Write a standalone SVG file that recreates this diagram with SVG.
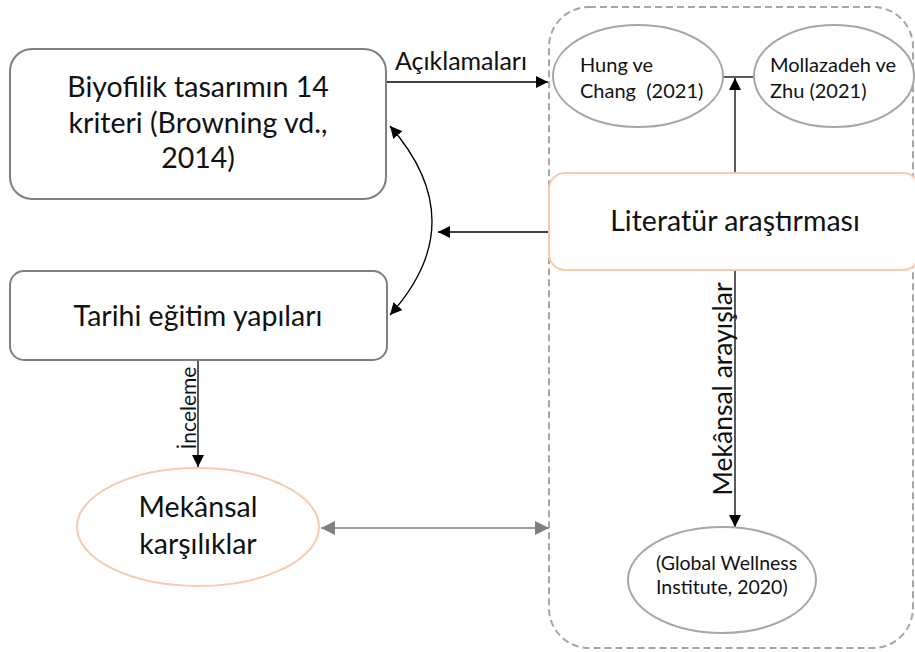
<svg xmlns="http://www.w3.org/2000/svg" width="915" height="652" viewBox="0 0 915 652">
<defs>
<marker id="ah" viewBox="0 0 10 10" refX="10" refY="5" markerWidth="12" markerHeight="12" markerUnits="userSpaceOnUse" orient="auto-start-reverse"><path d="M0,0 L10,5 L0,10 Z" fill="#000"/></marker>
<marker id="ahg" viewBox="0 0 10 10" refX="10" refY="5" markerWidth="14" markerHeight="14" markerUnits="userSpaceOnUse" orient="auto-start-reverse"><path d="M0,0 L10,5 L0,10 Z" fill="#7f7f7f"/></marker>
<style>
text{font-family:Lato,"Liberation Sans",sans-serif;fill:#111;}
.big{font-size:28.5px;text-anchor:middle;}
.sm{font-size:20px;}
.lbl{font-size:25px;}
.box{fill:#fff;stroke:#7f7f7f;stroke-width:2;}
.obox{fill:#fff;stroke:#f8cbad;stroke-width:2;}
.ell{fill:#fff;stroke:#a6a6a6;stroke-width:2;}
.con{fill:none;stroke:#000;stroke-width:1.3;}
</style>
</defs>
<g id="container"><rect x="549" y="7" width="364" height="641" rx="40" fill="none" stroke="#a6a6a6" stroke-width="2" stroke-dasharray="7,4"/></g>
<g id="connectors">
<line class="con" x1="387" y1="82" x2="548" y2="82" marker-end="url(#ah)"/>
<path class="con" d="M390,126 Q474,222 390,315" marker-start="url(#ah)" marker-end="url(#ah)"/>
<line class="con" x1="549" y1="232" x2="438" y2="232" marker-end="url(#ah)"/>
<line class="con" x1="723" y1="77" x2="753" y2="77"/>
<line class="con" x1="735" y1="173" x2="735" y2="78" marker-end="url(#ah)"/>
<line class="con" x1="735" y1="270" x2="735" y2="527" marker-end="url(#ah)"/>
<line class="con" x1="198" y1="361" x2="198" y2="467" marker-end="url(#ah)"/>
<line x1="321" y1="528" x2="549" y2="528" stroke="#7f7f7f" stroke-width="1.5" marker-start="url(#ahg)" marker-end="url(#ahg)"/>
<text class="lbl" x="461" y="70" text-anchor="middle">Açıklamaları</text>
<text style="font-size:21px" transform="translate(196,408) rotate(-90)" text-anchor="middle">İnceleme</text>
<text style="font-size:26.5px" transform="translate(732,389) rotate(-90)" text-anchor="middle">Mekânsal arayışlar</text>
</g>
<g id="biyofilik"><rect class="box" x="10" y="49" width="376" height="150" rx="22"/>
<text class="big" x="198" y="97">Biyofilik tasarımın 14</text>
<text class="big" x="198" y="133">kriteri (Browning vd.,</text>
<text class="big" x="198" y="168">2014)</text></g>
<g id="tarihi"><rect class="box" x="10" y="271" width="377" height="89" rx="14"/>
<text class="big" x="198" y="326">Tarihi eğitim yapıları</text></g>
<g id="mekansal"><ellipse class="obox" cx="198" cy="527" rx="121" ry="59"/>
<text class="big" x="198" y="517">Mekânsal</text>
<text class="big" x="198" y="554">karşılıklar</text></g>
<g id="literatur"><rect class="obox" x="549" y="173" width="370" height="97" rx="16"/>
<text class="big" x="735" y="231">Literatür araştırması</text></g>
<g id="hung"><ellipse class="ell" cx="638" cy="76" rx="85" ry="51"/>
<text class="sm" x="580" y="72">Hung ve</text>
<text class="sm" x="580" y="98" xml:space="preserve">Chang  (2021)</text></g>
<g id="mollazadeh"><ellipse class="ell" cx="834" cy="76" rx="80" ry="51"/>
<text class="sm" x="770" y="72">Mollazadeh ve</text>
<text class="sm" x="770" y="98">Zhu (2021)</text></g>
<g id="global"><ellipse class="ell" cx="722" cy="580" rx="94" ry="53"/>
<text style="font-size:19.5px" x="656" y="570">(Global Wellness</text>
<text style="font-size:19.5px" x="656" y="594">Institute, 2020)</text></g>
</svg>
